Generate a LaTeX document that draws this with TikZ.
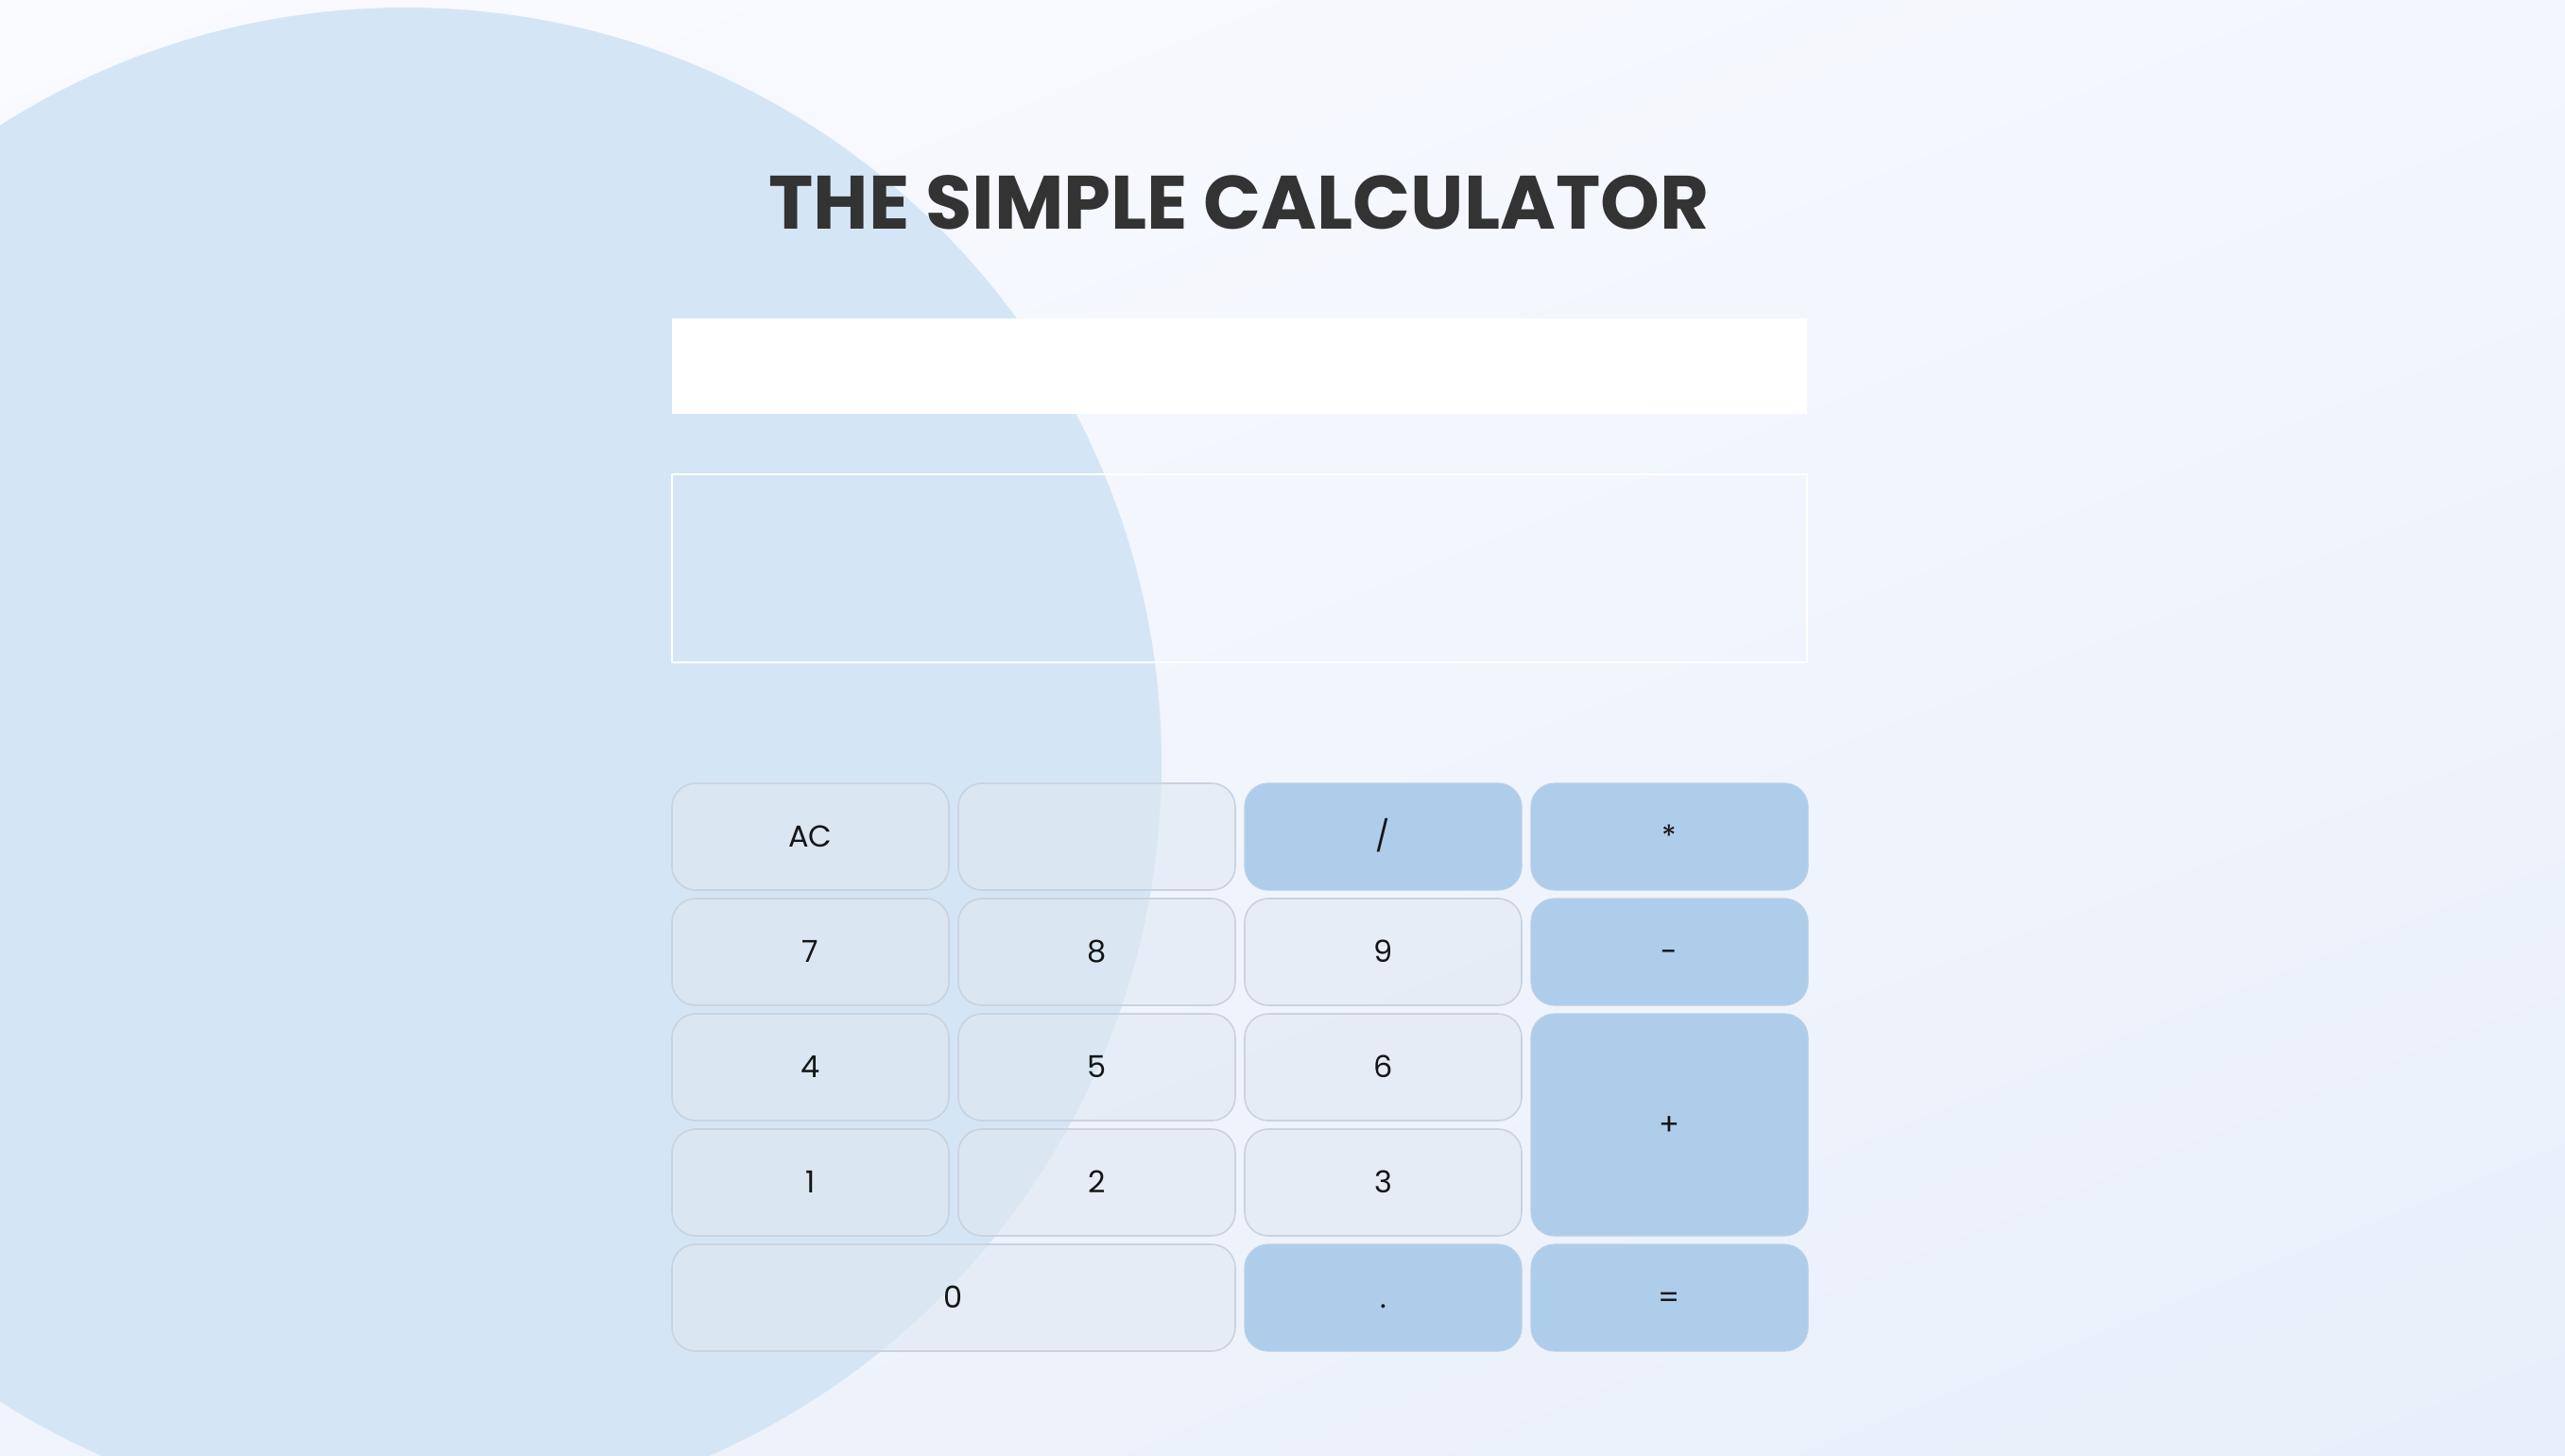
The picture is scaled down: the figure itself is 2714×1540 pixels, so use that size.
\documentclass[tikz,border=0pt]{standalone}
\usepackage{fontspec}
\usetikzlibrary{shadings}
\setmainfont{Poppins}
\newfontfamily\titlefont{Poppins}[UprightFont=* Bold]
\definecolor{bgA}{HTML}{FAFBFF}
\definecolor{bgB}{HTML}{F3F6FD}
\definecolor{bgC}{HTML}{F0F4FC}
\definecolor{bgD}{HTML}{E8EFFA}
\definecolor{circ}{HTML}{D4E6F5}
\definecolor{keyfill}{HTML}{DFE8F2}
\definecolor{keyline}{HTML}{C9D3DF}
\definecolor{opfill}{HTML}{AECDEB}
\definecolor{opline}{HTML}{B9CFE6}
\definecolor{titlecol}{HTML}{333333}
\definecolor{labelcol}{HTML}{151515}
\tikzset{
  keybase/.style={anchor=north west, rectangle, rounded corners=25pt,
    minimum height=113pt, minimum width=293pt, inner sep=0pt, outer sep=0pt,
    font=\fontsize{32}{36}\selectfont, text=labelcol,
    text height=22.6pt, text depth=0pt},
  numkey/.style={keybase, draw=keyline, line width=1.6pt, fill=keyfill, fill opacity=0.55, text opacity=1},
  opkey/.style={keybase, draw=opline, line width=1.2pt, fill=opfill},
}
\begin{document}
\begin{tikzpicture}[x=1pt,y=-1pt]
\useasboundingbox (0,0) rectangle (2714,1540);
\shade[upper left=bgA, upper right=bgB, lower left=bgC, lower right=bgD] (0,0) rectangle (2714,1540);
\begin{scope}
\clip (0,0) rectangle (2714,1540);
\fill[circ] (429,808) circle[radius=800];
\end{scope}
% title
\node[font=\titlefont\fontsize{80}{90}\selectfont, text=titlecol, inner sep=0pt,
  anchor=base] (title) at (1311,242.5) {THE SIMPLE CALCULATOR};
% displays
\node[anchor=north west, fill=white, minimum width=1201pt, minimum height=101pt, inner sep=0pt, outer sep=0pt] (input) at (711,337) {};
\node[anchor=north west, draw=white, line width=1.5pt, minimum width=1201pt, minimum height=199pt, inner sep=0pt, outer sep=0pt] (output) at (711,502) {};
% row 1
\node[numkey] (ac) at (711,829) {AC};
\node[numkey] (blank) at (1014,829) {};
\node[opkey] (div) at (1317,829) {/};
\node[opkey] (mul) at (1620,829) {*};
% row 2
\node[numkey] (k7) at (711,951) {7};
\node[numkey] (k8) at (1014,951) {8};
\node[numkey] (k9) at (1317,951) {9};
\node[opkey] (sub) at (1620,951) {-};
% row 3
\node[numkey] (k4) at (711,1073) {4};
\node[numkey] (k5) at (1014,1073) {5};
\node[numkey] (k6) at (1317,1073) {6};
\node[opkey, minimum height=235pt] (add) at (1620,1073) {+};
% row 4
\node[numkey] (k1) at (711,1195) {1};
\node[numkey] (k2) at (1014,1195) {2};
\node[numkey] (k3) at (1317,1195) {3};
% row 5
\node[numkey, minimum width=596pt] (k0) at (711,1317) {0};
\node[opkey] (dot) at (1317,1317) {.};
\node[opkey] (eq) at (1620,1317) {=};
\end{tikzpicture}
\end{document}
